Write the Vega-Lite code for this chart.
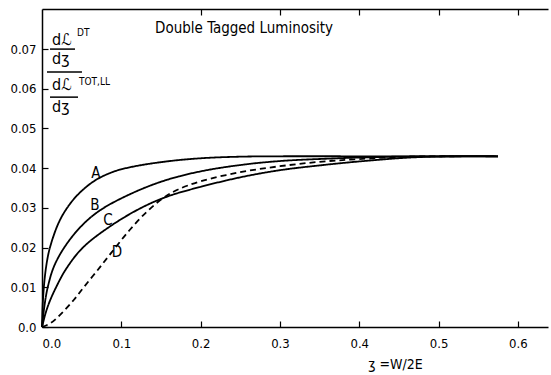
{
  "$schema": "https://vega.github.io/schema/vega-lite/v6.json",
  "width": 506,
  "height": 318,
  "autosize": "none",
  "padding": {"left": 42, "top": 9, "right": 3, "bottom": 48},
  "background": "white",
  "config": {
    "view": {"stroke": null},
    "font": "DejaVu Sans Condensed",
    "axis": {
      "grid": false,
      "domainColor": "black",
      "domainWidth": 1.5,
      "tickColor": "black",
      "tickWidth": 1.2,
      "labelColor": "black",
      "labelFont": "DejaVu Sans Condensed",
      "labelFontSize": 13,
      "titleColor": "black",
      "titleFont": "DejaVu Sans Condensed",
      "titleFontWeight": "normal"
    }
  },
  "datasets": {
    "curves": [
      {"curve": "A", "x": 0, "y": 0},
      {"curve": "A", "x": 0.001, "y": 0.006},
      {"curve": "A", "x": 0.003, "y": 0.0115},
      {"curve": "A", "x": 0.006, "y": 0.0162},
      {"curve": "A", "x": 0.01, "y": 0.02},
      {"curve": "A", "x": 0.02, "y": 0.0258},
      {"curve": "A", "x": 0.03, "y": 0.0295},
      {"curve": "A", "x": 0.045, "y": 0.0333},
      {"curve": "A", "x": 0.066, "y": 0.0368},
      {"curve": "A", "x": 0.09, "y": 0.0391},
      {"curve": "A", "x": 0.115, "y": 0.0404},
      {"curve": "A", "x": 0.157, "y": 0.0417},
      {"curve": "A", "x": 0.2, "y": 0.0425},
      {"curve": "A", "x": 0.25, "y": 0.0429},
      {"curve": "A", "x": 0.3, "y": 0.043},
      {"curve": "A", "x": 0.4, "y": 0.043},
      {"curve": "A", "x": 0.5, "y": 0.043},
      {"curve": "A", "x": 0.575, "y": 0.043},
      {"curve": "B", "x": 0, "y": 0},
      {"curve": "B", "x": 0.003, "y": 0.0052},
      {"curve": "B", "x": 0.007, "y": 0.0098},
      {"curve": "B", "x": 0.015, "y": 0.0152},
      {"curve": "B", "x": 0.029, "y": 0.0203},
      {"curve": "B", "x": 0.05, "y": 0.0255},
      {"curve": "B", "x": 0.074, "y": 0.0295},
      {"curve": "B", "x": 0.117, "y": 0.034},
      {"curve": "B", "x": 0.158, "y": 0.0371},
      {"curve": "B", "x": 0.2, "y": 0.0392},
      {"curve": "B", "x": 0.25, "y": 0.0408},
      {"curve": "B", "x": 0.3, "y": 0.0418},
      {"curve": "B", "x": 0.36, "y": 0.0424},
      {"curve": "B", "x": 0.42, "y": 0.0428},
      {"curve": "B", "x": 0.5, "y": 0.043},
      {"curve": "B", "x": 0.575, "y": 0.043},
      {"curve": "C", "x": 0, "y": 0},
      {"curve": "C", "x": 0.005, "y": 0.0038},
      {"curve": "C", "x": 0.01, "y": 0.0066},
      {"curve": "C", "x": 0.018, "y": 0.0101},
      {"curve": "C", "x": 0.03, "y": 0.0145},
      {"curve": "C", "x": 0.051, "y": 0.0199},
      {"curve": "C", "x": 0.087, "y": 0.0255},
      {"curve": "C", "x": 0.127, "y": 0.0302},
      {"curve": "C", "x": 0.16, "y": 0.033},
      {"curve": "C", "x": 0.2, "y": 0.0353},
      {"curve": "C", "x": 0.25, "y": 0.0377},
      {"curve": "C", "x": 0.3, "y": 0.0395},
      {"curve": "C", "x": 0.35, "y": 0.0407},
      {"curve": "C", "x": 0.4, "y": 0.0417},
      {"curve": "C", "x": 0.465, "y": 0.0427},
      {"curve": "C", "x": 0.52, "y": 0.043},
      {"curve": "C", "x": 0.575, "y": 0.043},
      {"curve": "D", "x": 0, "y": 0},
      {"curve": "D", "x": 0.011, "y": 0.001},
      {"curve": "D", "x": 0.025, "y": 0.0035},
      {"curve": "D", "x": 0.04, "y": 0.0068},
      {"curve": "D", "x": 0.053, "y": 0.0101},
      {"curve": "D", "x": 0.07, "y": 0.0143},
      {"curve": "D", "x": 0.087, "y": 0.0186},
      {"curve": "D", "x": 0.11, "y": 0.0243},
      {"curve": "D", "x": 0.133, "y": 0.0292},
      {"curve": "D", "x": 0.153, "y": 0.0325},
      {"curve": "D", "x": 0.17, "y": 0.0345},
      {"curve": "D", "x": 0.2, "y": 0.0367},
      {"curve": "D", "x": 0.25, "y": 0.039},
      {"curve": "D", "x": 0.3, "y": 0.0405},
      {"curve": "D", "x": 0.35, "y": 0.0416},
      {"curve": "D", "x": 0.4, "y": 0.0423},
      {"curve": "D", "x": 0.465, "y": 0.0429},
      {"curve": "D", "x": 0.52, "y": 0.043}
    ],
    "curveLabels": [
      {"label": "A", "x": 0.068, "y": 0.0388},
      {"label": "B", "x": 0.0668, "y": 0.0307},
      {"label": "C", "x": 0.0832, "y": 0.027},
      {"label": "D", "x": 0.0946, "y": 0.0189}
    ],
    "bigText": [
      {"t": "dℒ", "x": 0.0126, "y": 0.071},
      {"t": "dʒ", "x": 0.0126, "y": 0.0662},
      {"t": "dℒ", "x": 0.0126, "y": 0.0597},
      {"t": "dʒ", "x": 0.0126, "y": 0.0542}
    ],
    "supText": [
      {"t": "DT", "x": 0.0441, "y": 0.0733},
      {"t": "TOT,LL", "x": 0.0467, "y": 0.061}
    ],
    "bars": [
      {"x": 0.0101, "x2": 0.0416, "y": 0.07},
      {"x": 0.0063, "x2": 0.0504, "y": 0.0642},
      {"x": 0.0101, "x2": 0.0454, "y": 0.0579}
    ],
    "titleText": [
      {"t": "Double Tagged Luminosity", "x": 0.1425, "y": 0.0753}
    ]
  },
  "resolve": {"axis": {"x": "independent", "y": "independent"}},
  "layer": [
    {
      "data": {"name": "curves"},
      "mark": {"type": "line", "interpolate": "catmull-rom", "color": "black", "strokeWidth": 1.8},
      "encoding": {
        "x": {
          "field": "x", "type": "quantitative",
          "scale": {"domain": [0, 0.638], "nice": false, "zero": false},
          "axis": {
            "orient": "bottom",
            "values": [0, 0.1, 0.2, 0.3, 0.4, 0.5, 0.6],
            "format": ".1f",
            "tickSize": -6,
            "labelPadding": 16,
            "title": "ʒ =W/2E",
            "titleFontSize": 14,
            "titleX": 353,
            "titleY": 30,
            "titleBaseline": "top",
            "titleAnchor": "middle"
          }
        },
        "y": {
          "field": "y", "type": "quantitative",
          "scale": {"domain": [0, 0.0801], "nice": false, "zero": false},
          "axis": {
            "orient": "left",
            "values": [0, 0.01, 0.02, 0.03, 0.04, 0.05, 0.06, 0.07],
            "labelExpr": "datum.value == 0 ? '0.0' : format(datum.value, '.2f')",
            "tickSize": -6,
            "labelPadding": 12,
            "title": null
          }
        },
        "detail": {"field": "curve", "type": "nominal"},
        "strokeDash": {
          "field": "curve", "type": "nominal",
          "scale": {"domain": ["A", "B", "C", "D"], "range": [[1, 0], [1, 0], [1, 0], [6, 4]]},
          "legend": null
        }
      }
    },
    {
      "data": {"name": "curveLabels"},
      "mark": {"type": "text", "fontSize": 15, "color": "black", "font": "DejaVu Sans Condensed"},
      "encoding": {
        "x": {
          "field": "x", "type": "quantitative",
          "scale": {"domain": [0, 0.638], "nice": false, "zero": false},
          "axis": {
            "orient": "top",
            "values": [0.2, 0.3, 0.4, 0.5, 0.6],
            "labels": false,
            "tickSize": -6,
            "title": null
          }
        },
        "y": {"field": "y", "type": "quantitative", "axis": null},
        "text": {"field": "label"}
      }
    },
    {
      "data": {"name": "bigText"},
      "mark": {"type": "text", "fontSize": 16, "align": "left", "baseline": "alphabetic", "color": "black", "font": "DejaVu Sans Condensed"},
      "encoding": {
        "x": {"field": "x", "type": "quantitative", "axis": null},
        "y": {"field": "y", "type": "quantitative", "axis": null},
        "text": {"field": "t"}
      }
    },
    {
      "data": {"name": "supText"},
      "mark": {"type": "text", "fontSize": 10, "align": "left", "baseline": "alphabetic", "color": "black", "font": "DejaVu Sans Condensed"},
      "encoding": {
        "x": {"field": "x", "type": "quantitative", "axis": null},
        "y": {"field": "y", "type": "quantitative", "axis": null},
        "text": {"field": "t"}
      }
    },
    {
      "data": {"name": "bars"},
      "mark": {"type": "rule", "color": "black", "strokeWidth": 1.5},
      "encoding": {
        "x": {"field": "x", "type": "quantitative", "axis": null},
        "x2": {"field": "x2"},
        "y": {"field": "y", "type": "quantitative", "axis": null}
      }
    },
    {
      "data": {"name": "titleText"},
      "mark": {"type": "text", "fontSize": 15, "align": "left", "baseline": "middle", "color": "black", "font": "DejaVu Sans Condensed"},
      "encoding": {
        "x": {"field": "x", "type": "quantitative", "axis": null},
        "y": {"field": "y", "type": "quantitative", "axis": null},
        "text": {"field": "t"}
      }
    }
  ]
}
